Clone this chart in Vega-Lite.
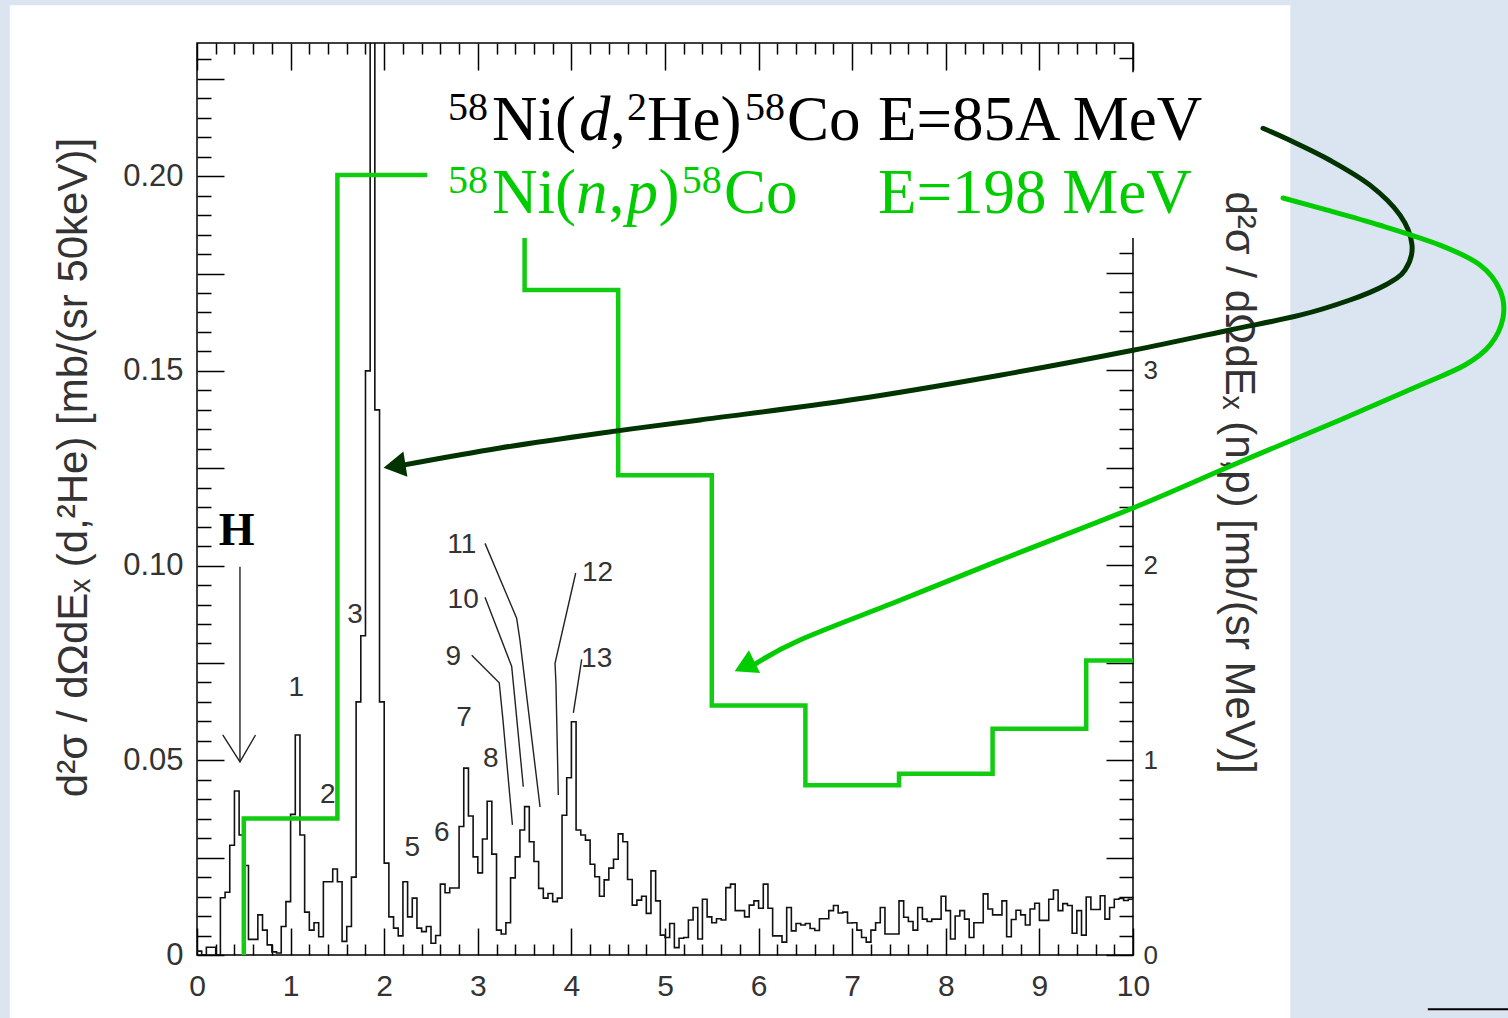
{
"$schema": "https://vega.github.io/schema/vega-lite/v6.json",
"width": 936, "height": 912,
"autosize": {"type": "none"},
"padding": {"left": 197, "top": 43, "right": 375, "bottom": 63},
"background": "#ffffff",
"config": {"view": {"stroke": "#000000", "strokeWidth": 1.5}, "axis": {"labelFont": "Liberation Sans", "titleFont": "Liberation Sans", "labelColor": "#333333", "titleColor": "#333333", "titleFontWeight": "normal"}},
"resolve": {"scale": {"y": "independent"}, "axis": {"x": "independent", "y": "independent"}},
"datasets": {
"hist": [
{"e":0.00,"v":0.001},{"e":0.05,"v":0.0},{"e":0.10,"v":0.002},{"e":0.15,"v":0.002},{"e":0.20,"v":0.0},
{"e":0.25,"v":0.0147},{"e":0.30,"v":0.0161},{"e":0.35,"v":0.0282},{"e":0.40,"v":0.0421},{"e":0.45,"v":0.0308},
{"e":0.50,"v":0.023},{"e":0.55,"v":0.004},{"e":0.60,"v":0.004},{"e":0.65,"v":0.0103},{"e":0.70,"v":0.0064},
{"e":0.75,"v":0.0026},{"e":0.80,"v":0.0008},{"e":0.85,"v":0.0005},{"e":0.90,"v":0.0073},{"e":0.95,"v":0.0137},
{"e":1.00,"v":0.0361},{"e":1.05,"v":0.0565},{"e":1.10,"v":0.0308},{"e":1.15,"v":0.011},{"e":1.20,"v":0.0064},
{"e":1.25,"v":0.0083},{"e":1.30,"v":0.0047},{"e":1.35,"v":0.0188},{"e":1.40,"v":0.0188},{"e":1.45,"v":0.0221},
{"e":1.50,"v":0.0188},{"e":1.55,"v":0.0035},{"e":1.60,"v":0.0073},{"e":1.65,"v":0.020},{"e":1.70,"v":0.065},
{"e":1.75,"v":0.082},{"e":1.80,"v":0.150},{"e":1.85,"v":0.300},{"e":1.90,"v":0.140},{"e":1.95,"v":0.065},
{"e":2.00,"v":0.0236},{"e":2.05,"v":0.0098},{"e":2.10,"v":0.0069},{"e":2.15,"v":0.0049},{"e":2.20,"v":0.0188},
{"e":2.25,"v":0.0098},{"e":2.30,"v":0.0146},{"e":2.35,"v":0.0069},{"e":2.40,"v":0.006},{"e":2.45,"v":0.0073},
{"e":2.50,"v":0.003},{"e":2.55,"v":0.005},{"e":2.60,"v":0.0182},{"e":2.65,"v":0.016},{"e":2.70,"v":0.0172},
{"e":2.75,"v":0.0172},{"e":2.80,"v":0.033},{"e":2.85,"v":0.048},{"e":2.90,"v":0.0357},{"e":2.95,"v":0.0252},
{"e":3.00,"v":0.0211},{"e":3.05,"v":0.0298},{"e":3.10,"v":0.0395},{"e":3.15,"v":0.0259},{"e":3.20,"v":0.0064},
{"e":3.25,"v":0.0054},{"e":3.30,"v":0.0083},{"e":3.35,"v":0.0198},{"e":3.40,"v":0.0252},{"e":3.45,"v":0.0321},
{"e":3.50,"v":0.0381},{"e":3.55,"v":0.0291},{"e":3.60,"v":0.024},{"e":3.65,"v":0.0171},{"e":3.70,"v":0.0146},
{"e":3.75,"v":0.0158},{"e":3.80,"v":0.0137},{"e":3.85,"v":0.0146},{"e":3.90,"v":0.0359},{"e":3.95,"v":0.0455},
{"e":4.00,"v":0.0599},{"e":4.05,"v":0.0321},{"e":4.10,"v":0.0308},{"e":4.15,"v":0.0295},{"e":4.20,"v":0.0233},
{"e":4.25,"v":0.0201},{"e":4.30,"v":0.0151},{"e":4.35,"v":0.0193},{"e":4.40,"v":0.0223},{"e":4.45,"v":0.0246},
{"e":4.50,"v":0.0311},{"e":4.55,"v":0.0291},{"e":4.60,"v":0.0194},{"e":4.65,"v":0.0128},{"e":4.70,"v":0.0141},
{"e":4.75,"v":0.0151},{"e":4.80,"v":0.0107},{"e":4.85,"v":0.0216},{"e":4.90,"v":0.0139},{"e":4.95,"v":0.0051},
{"e":5.00,"v":0.0045},{"e":5.05,"v":0.0081},{"e":5.10,"v":0.0019},{"e":5.15,"v":0.0043},{"e":5.20,"v":0.0045},
{"e":5.25,"v":0.009},{"e":5.30,"v":0.0122},{"e":5.35,"v":0.0041},{"e":5.40,"v":0.0143},{"e":5.45,"v":0.0098},
{"e":5.50,"v":0.0083},{"e":5.55,"v":0.0093},{"e":5.60,"v":0.009},{"e":5.65,"v":0.0173},{"e":5.70,"v":0.0182},
{"e":5.75,"v":0.0114},{"e":5.80,"v":0.0114},{"e":5.85,"v":0.0098},{"e":5.90,"v":0.0128},{"e":5.95,"v":0.0139},
{"e":6.00,"v":0.012},{"e":6.05,"v":0.0182},{"e":6.10,"v":0.012},{"e":6.15,"v":0.0049},{"e":6.20,"v":0.0049},
{"e":6.25,"v":0.0033},{"e":6.30,"v":0.0122},{"e":6.35,"v":0.0062},{"e":6.40,"v":0.0081},{"e":6.45,"v":0.0077},
{"e":6.50,"v":0.0081},{"e":6.55,"v":0.0068},{"e":6.60,"v":0.0063},{"e":6.65,"v":0.0093},{"e":6.70,"v":0.0093},
{"e":6.75,"v":0.0114},{"e":6.80,"v":0.0127},{"e":6.85,"v":0.0108},{"e":6.90,"v":0.011},{"e":6.95,"v":0.0082},
{"e":7.00,"v":0.0083},{"e":7.05,"v":0.0064},{"e":7.10,"v":0.0045},{"e":7.15,"v":0.0033},{"e":7.20,"v":0.0064},
{"e":7.25,"v":0.0083},{"e":7.30,"v":0.0122},{"e":7.35,"v":0.0054},{"e":7.40,"v":0.0054},{"e":7.45,"v":0.0054},
{"e":7.50,"v":0.0139},{"e":7.55,"v":0.0097},{"e":7.60,"v":0.0086},{"e":7.65,"v":0.0064},{"e":7.70,"v":0.0122},
{"e":7.75,"v":0.0092},{"e":7.80,"v":0.0086},{"e":7.85,"v":0.0092},{"e":7.90,"v":0.0092},{"e":7.95,"v":0.0151},
{"e":8.00,"v":0.0114},{"e":8.05,"v":0.0041},{"e":8.10,"v":0.01},{"e":8.15,"v":0.0114},{"e":8.20,"v":0.0092},
{"e":8.25,"v":0.0045},{"e":8.30,"v":0.0083},{"e":8.35,"v":0.0083},{"e":8.40,"v":0.0157},{"e":8.45,"v":0.0118},
{"e":8.50,"v":0.0103},{"e":8.55,"v":0.0103},{"e":8.60,"v":0.0139},{"e":8.65,"v":0.0047},{"e":8.70,"v":0.0091},
{"e":8.75,"v":0.0115},{"e":8.80,"v":0.0103},{"e":8.85,"v":0.0077},{"e":8.90,"v":0.0118},{"e":8.95,"v":0.0133},
{"e":9.00,"v":0.0089},{"e":9.05,"v":0.0089},{"e":9.10,"v":0.0143},{"e":9.15,"v":0.0167},{"e":9.20,"v":0.0114},
{"e":9.25,"v":0.0132},{"e":9.30,"v":0.0127},{"e":9.35,"v":0.0056},{"e":9.40,"v":0.0114},{"e":9.45,"v":0.0051},
{"e":9.50,"v":0.0149},{"e":9.55,"v":0.0117},{"e":9.60,"v":0.0117},{"e":9.65,"v":0.0152},{"e":9.70,"v":0.0092},
{"e":9.75,"v":0.0122},{"e":9.80,"v":0.0143},{"e":9.85,"v":0.0145},{"e":9.90,"v":0.014},{"e":9.95,"v":0.0143},
{"e":10.00,"v":0.0143}
],
"np": [
{"i":0,"e":0.5,"g":0},{"i":1,"e":0.5,"g":0.70},{"i":2,"e":1.5,"g":4.0},{"i":3,"e":2.5,"g":4.3},
{"i":4,"e":3.5,"g":3.41},{"i":5,"e":4.5,"g":2.46},{"i":6,"e":5.5,"g":1.28},{"i":7,"e":6.5,"g":0.87},
{"i":8,"e":7.5,"g":0.93},{"i":9,"e":8.5,"g":1.16},{"i":10,"e":9.5,"g":1.51},{"i":11,"e":10.0,"g":1.51}
],
"curves": [
{"id":"dark","i":0,"x":11.389,"y":0.2123},{"id":"dark","i":1,"x":11.677,"y":0.2092},{"id":"dark","i":2,"x":12.104,"y":0.2041},
{"id":"dark","i":3,"x":12.532,"y":0.1977},{"id":"dark","i":4,"x":12.853,"y":0.19},{"id":"dark","i":5,"x":12.981,"y":0.1823},
{"id":"dark","i":6,"x":12.906,"y":0.1759},{"id":"dark","i":7,"x":12.692,"y":0.172},{"id":"dark","i":8,"x":12.318,"y":0.1682},
{"id":"dark","i":9,"x":11.784,"y":0.1643},{"id":"dark","i":10,"x":11.036,"y":0.1605},{"id":"dark","i":11,"x":10.0,"y":0.1553},
{"id":"dark","i":12,"x":8.579,"y":0.1489},{"id":"dark","i":13,"x":6.976,"y":0.1425},{"id":"dark","i":14,"x":5.374,"y":0.1374},
{"id":"dark","i":15,"x":4.306,"y":0.134},{"id":"dark","i":16,"x":3.237,"y":0.1302},{"id":"dark","i":17,"x":2.2,"y":0.1258},
{"id":"light","i":0,"x":11.603,"y":0.1944},{"id":"light","i":1,"x":11.998,"y":0.1918},{"id":"light","i":2,"x":12.639,"y":0.1874},
{"id":"light","i":3,"x":13.28,"y":0.1823},{"id":"light","i":4,"x":13.707,"y":0.1772},{"id":"light","i":5,"x":13.921,"y":0.1707},
{"id":"light","i":6,"x":13.953,"y":0.1636},{"id":"light","i":7,"x":13.814,"y":0.1566},{"id":"light","i":8,"x":13.547,"y":0.1515},
{"id":"light","i":9,"x":13.066,"y":0.1463},{"id":"light","i":10,"x":12.212,"y":0.1374},{"id":"light","i":11,"x":11.143,"y":0.1266},
{"id":"light","i":12,"x":10.0,"y":0.1148},{"id":"light","i":13,"x":8.579,"y":0.1014},{"id":"light","i":14,"x":7.511,"y":0.0911},
{"id":"light","i":15,"x":6.442,"y":0.0809},{"id":"light","i":16,"x":5.95,"y":0.0745}
],
"leaders": [
{"id":"H1","i":0,"x":0.459,"y":0.0997},{"id":"H1","i":1,"x":0.459,"y":0.0496},
{"id":"H2","i":0,"x":0.275,"y":0.0565},{"id":"H2","i":1,"x":0.459,"y":0.0496},{"id":"H2","i":2,"x":0.625,"y":0.0565},
{"id":"9","i":0,"x":2.935,"y":0.077},{"id":"9","i":1,"x":3.229,"y":0.0699},{"id":"9","i":2,"x":3.269,"y":0.0603},{"id":"9","i":3,"x":3.37,"y":0.0334},
{"id":"10","i":0,"x":3.077,"y":0.0919},{"id":"10","i":1,"x":3.362,"y":0.0741},{"id":"10","i":2,"x":3.397,"y":0.0655},{"id":"10","i":3,"x":3.486,"y":0.0432},
{"id":"11","i":0,"x":3.077,"y":0.1057},{"id":"11","i":1,"x":3.415,"y":0.0865},{"id":"11","i":2,"x":3.45,"y":0.0809},{"id":"11","i":3,"x":3.665,"y":0.038},
{"id":"12","i":0,"x":4.046,"y":0.0981},{"id":"12","i":1,"x":3.825,"y":0.0749},{"id":"12","i":2,"x":3.835,"y":0.0698},{"id":"12","i":3,"x":3.86,"y":0.0411},
{"id":"13","i":0,"x":4.11,"y":0.0759},{"id":"13","i":1,"x":4.021,"y":0.0622}
],
"peaklabels": [
{"t":"1","x":1.062,"y":0.0686},{"t":"2","x":1.396,"y":0.0411},{"t":"3","x":1.688,"y":0.0874},
{"t":"5","x":2.3,"y":0.0275},{"t":"6","x":2.615,"y":0.0314},{"t":"7","x":2.852,"y":0.0608},
{"t":"8","x":3.138,"y":0.0503},{"t":"9","x":2.737,"y":0.0766},{"t":"10","x":2.844,"y":0.0911},
{"t":"11","x":2.83,"y":0.1053},{"t":"12","x":4.28,"y":0.0981},{"t":"13","x":4.27,"y":0.0761}
]
},
"layer": [
{
"data": {"values": [{"x":11.68,"x2":14.2,"y":-0.02,"y2":0.25},{"x":-2.2,"x2":11.68,"y":0.2439,"y2":0.25},{"x":-2.2,"x2":-2.0,"y":-0.02,"y2":0.25}]},
"mark": {"type":"rect","color":"#dbe5f1","clip":false},
"encoding": {
"x": {"field":"x","type":"quantitative","scale":{"domain":[0,10],"nice":false},"axis":null},
"x2": {"field":"x2"},
"y": {"field":"y","type":"quantitative","scale":{"domain":[0,0.2342],"nice":false},"axis":null},
"y2": {"field":"y2"}
}
},
{
"data": {"values": [{"x":13.15,"x2":14.2,"y":-0.0139}]},
"mark": {"type":"rule","color":"#000000","strokeWidth":2,"clip":false},
"encoding": {
"x": {"field":"x","type":"quantitative","scale":{"domain":[0,10],"nice":false},"axis":null},
"x2": {"field":"x2"},
"y": {"field":"y","type":"quantitative","scale":{"domain":[0,0.2342],"nice":false},"axis":null}
}
},
{
"data": {"name": "hist"},
"mark": {"type":"line","interpolate":"step-after","color":"#111111","strokeWidth":1.6,"clip":true},
"encoding": {
"x": {"field":"e","type":"quantitative","scale":{"domain":[0,10],"nice":false},
 "axis": {"orient":"bottom","values":[0,0.2,0.4,0.6,0.8,1,1.2,1.4,1.6,1.8,2,2.2,2.4,2.6,2.8,3,3.2,3.4,3.6,3.8,4,4.2,4.4,4.6,4.8,5,5.2,5.4,5.6,5.8,6,6.2,6.4,6.6,6.8,7,7.2,7.4,7.6,7.8,8,8.2,8.4,8.6,8.8,9,9.2,9.4,9.6,9.8,10],
  "ticks":false,"tickSize":0,"domain":false,"grid":true,"gridColor":"#000000","gridWidth":1.5,"gridOpacity":1,
  "gridDash":{"condition":{"test":"abs(datum.value-round(datum.value))<0.001","value":[27,3000]},"value":[11,3000]},
  "labelExpr":"abs(datum.value-round(datum.value))<0.001 ? ''+round(datum.value) : ''",
  "labelOverlap":false,"labelFlush":false,"labelPadding":16,"labelFontSize":30,"title":null}},
"y": {"field":"v","type":"quantitative","scale":{"domain":[0,0.2342],"nice":false},
 "axis": {"orient":"left","values":[0,0.005,0.01,0.015,0.02,0.025,0.03,0.035,0.04,0.045,0.05,0.055,0.06,0.065,0.07,0.075,0.08,0.085,0.09,0.095,0.1,0.105,0.11,0.115,0.12,0.125,0.13,0.135,0.14,0.145,0.15,0.155,0.16,0.165,0.17,0.175,0.18,0.185,0.19,0.195,0.2,0.205,0.21,0.215,0.22,0.225,0.23],
  "ticks":false,"tickSize":0,"domain":false,"grid":true,"gridColor":"#000000","gridWidth":1.5,"gridOpacity":1,
  "gridDash":{"condition":{"test":"abs(datum.value*40-round(datum.value*40))<0.001","value":[27,3000]},"value":[14,3000]},
  "labelExpr":"abs(datum.value*20-round(datum.value*20))<0.001 ? (datum.value<0.0001 ? '0' : format(datum.value,'.2f')) : ''",
  "labelOverlap":false,"labelFlush":false,"labelPadding":14,"labelFontSize":31,
  "title":"d²σ / dΩdEₓ (d,²He) [mb/(sr 50keV)]","titleFontSize":42,"titleAngle":-90,"titleX":-124,"titleY":424,"titleAlign":"center","titleBaseline":"middle"}}
}
},
{
"data": {"name": "np"},
"mark": {"type":"line","interpolate":"step-after","color":"#11cc11","strokeWidth":4.5,"clip":false},
"encoding": {
"x": {"field":"e","type":"quantitative","scale":{"domain":[0,10],"nice":false},
 "axis": {"orient":"top","values":[0,0.2,0.4,0.6,0.8,1,1.2,1.4,1.6,1.8,2,2.2,2.4,2.6,2.8,3,3.2,3.4,3.6,3.8,4,4.2,4.4,4.6,4.8,5,5.2,5.4,5.6,5.8,6,6.2,6.4,6.6,6.8,7,7.2,7.4,7.6,7.8,8,8.2,8.4,8.6,8.8,9,9.2,9.4,9.6,9.8,10],
  "ticks":false,"tickSize":0,"domain":false,"labels":false,"grid":true,"gridColor":"#000000","gridWidth":1.5,"gridOpacity":1,
  "gridDash":{"condition":{"test":"abs(datum.value-round(datum.value))<0.001","value":[27,3000]},"value":[11,3000]},"title":null}},
"y": {"field":"g","type":"quantitative","scale":{"domain":[0,4.677],"nice":false},
 "axis": {"orient":"right","values":[0,0.1,0.2,0.3,0.4,0.5,0.6,0.7,0.8,0.9,1,1.1,1.2,1.3,1.4,1.5,1.6,1.7,1.8,1.9,2,2.1,2.2,2.3,2.4,2.5,2.6,2.7,2.8,2.9,3,3.1,3.2,3.3,3.4,3.5,3.6,3.7,3.8,3.9,4,4.1,4.2,4.3,4.4,4.5,4.6],
  "ticks":false,"tickSize":0,"domain":false,"grid":true,"gridColor":"#000000","gridWidth":1.5,"gridOpacity":1,
  "gridDash":{"condition":{"test":"abs(datum.value*2-round(datum.value*2))<0.001","value":[27,3000]},"value":[14,3000]},
  "labelExpr":"abs(datum.value-round(datum.value))<0.001 && datum.value<3.5 ? ''+round(datum.value) : ''",
  "labelOverlap":false,"labelFlush":false,"labelPadding":10,"labelFontSize":26,
  "title":"d²σ / dΩdEₓ (n,p) [mb/(sr MeV)]","titleFontSize":42,"titleAngle":90,"titleX":105,"titleY":439,"titleAlign":"center","titleBaseline":"middle"}},
"order": {"field":"i","type":"quantitative"}
}
},
{
"data": {"values": [{"x":2.46,"x2":10.98,"y":0.1841,"y2":0.2267}]},
"mark": {"type":"rect","color":"#ffffff","clip":false},
"encoding": {
"x": {"field":"x","type":"quantitative","scale":{"domain":[0,10],"nice":false},"axis":null},
"x2": {"field":"x2"},
"y": {"field":"y","type":"quantitative","scale":{"domain":[0,0.2342],"nice":false},"axis":null},
"y2": {"field":"y2"}
}
},
{
"data": {"values": [{"t":"Ni(","x":3.152,"y":0.2092},{"t":",","x":4.412,"y":0.2092},{"t":"He)","x":4.808,"y":0.2092},{"t":"Co","x":6.303,"y":0.2092},{"t":"E=85A MeV","x":7.276,"y":0.2092}]},
"mark": {"type":"text","align":"left","baseline":"alphabetic","font":"Liberation Serif","fontSize":63,"color":"#000000","clip":false},
"encoding": {
"x": {"field":"x","type":"quantitative","scale":{"domain":[0,10],"nice":false},"axis":null},
"y": {"field":"y","type":"quantitative","scale":{"domain":[0,0.2342],"nice":false},"axis":null},
"text": {"field":"t"}
}
},
{
"data": {"values": [{"t":"d","x":4.082,"y":0.2092}]},
"mark": {"type":"text","align":"left","baseline":"alphabetic","font":"Liberation Serif","fontSize":63,"fontStyle":"italic","color":"#000000","clip":false},
"encoding": {
"x": {"field":"x","type":"quantitative","scale":{"domain":[0,10],"nice":false},"axis":null},
"y": {"field":"y","type":"quantitative","scale":{"domain":[0,0.2342],"nice":false},"axis":null},
"text": {"field":"t"}
}
},
{
"data": {"values": [{"t":"58","x":2.682,"y":0.2144},{"t":"2","x":4.594,"y":0.2144},{"t":"58","x":5.855,"y":0.2144}]},
"mark": {"type":"text","align":"left","baseline":"alphabetic","font":"Liberation Serif","fontSize":40,"color":"#000000","clip":false},
"encoding": {
"x": {"field":"x","type":"quantitative","scale":{"domain":[0,10],"nice":false},"axis":null},
"y": {"field":"y","type":"quantitative","scale":{"domain":[0,0.2342],"nice":false},"axis":null},
"text": {"field":"t"}
}
},
{
"data": {"values": [{"t":"Ni(","x":3.152,"y":0.1905},{"t":",","x":4.4,"y":0.1905},{"t":")","x":4.93,"y":0.1905},{"t":"Co","x":5.63,"y":0.1905},{"t":"E=198 MeV","x":7.276,"y":0.1905}]},
"mark": {"type":"text","align":"left","baseline":"alphabetic","font":"Liberation Serif","fontSize":63,"color":"#00cc00","clip":false},
"encoding": {
"x": {"field":"x","type":"quantitative","scale":{"domain":[0,10],"nice":false},"axis":null},
"y": {"field":"y","type":"quantitative","scale":{"domain":[0,0.2342],"nice":false},"axis":null},
"text": {"field":"t"}
}
},
{
"data": {"values": [{"t":"n","x":4.05,"y":0.1905},{"t":"p","x":4.59,"y":0.1905}]},
"mark": {"type":"text","align":"left","baseline":"alphabetic","font":"Liberation Serif","fontSize":63,"fontStyle":"italic","color":"#00cc00","clip":false},
"encoding": {
"x": {"field":"x","type":"quantitative","scale":{"domain":[0,10],"nice":false},"axis":null},
"y": {"field":"y","type":"quantitative","scale":{"domain":[0,0.2342],"nice":false},"axis":null},
"text": {"field":"t"}
}
},
{
"data": {"values": [{"t":"58","x":2.682,"y":0.1957},{"t":"58","x":5.18,"y":0.1957}]},
"mark": {"type":"text","align":"left","baseline":"alphabetic","font":"Liberation Serif","fontSize":40,"color":"#00cc00","clip":false},
"encoding": {
"x": {"field":"x","type":"quantitative","scale":{"domain":[0,10],"nice":false},"axis":null},
"y": {"field":"y","type":"quantitative","scale":{"domain":[0,0.2342],"nice":false},"axis":null},
"text": {"field":"t"}
}
},
{
"data": {"name": "peaklabels"},
"mark": {"type":"text","align":"center","baseline":"middle","font":"Liberation Sans","fontSize":28,"color":"#333333","clip":false},
"encoding": {
"x": {"field":"x","type":"quantitative","scale":{"domain":[0,10],"nice":false},"axis":null},
"y": {"field":"y","type":"quantitative","scale":{"domain":[0,0.2342],"nice":false},"axis":null},
"text": {"field":"t"}
}
},
{
"data": {"values": [{"t":"H","x":0.424,"y":0.109}]},
"mark": {"type":"text","align":"center","baseline":"middle","font":"Liberation Serif","fontSize":46,"fontWeight":"bold","color":"#000000","clip":false},
"encoding": {
"x": {"field":"x","type":"quantitative","scale":{"domain":[0,10],"nice":false},"axis":null},
"y": {"field":"y","type":"quantitative","scale":{"domain":[0,0.2342],"nice":false},"axis":null},
"text": {"field":"t"}
}
},
{
"data": {"name": "leaders"},
"mark": {"type":"line","color":"#222222","strokeWidth":1.4,"clip":false},
"encoding": {
"x": {"field":"x","type":"quantitative","scale":{"domain":[0,10],"nice":false},"axis":null},
"y": {"field":"y","type":"quantitative","scale":{"domain":[0,0.2342],"nice":false},"axis":null},
"detail": {"field":"id"},
"order": {"field":"i","type":"quantitative"}
}
},
{
"data": {"name": "curves"},
"mark": {"type":"line","interpolate":"cardinal","strokeWidth":5,"strokeCap":"round","clip":false},
"encoding": {
"x": {"field":"x","type":"quantitative","scale":{"domain":[0,10],"nice":false},"axis":null},
"y": {"field":"y","type":"quantitative","scale":{"domain":[0,0.2342],"nice":false},"axis":null},
"color": {"field":"id","type":"nominal","scale":{"domain":["dark","light"],"range":["#003300","#00cc00"]},"legend":null},
"order": {"field":"i","type":"quantitative"}
}
},
{
"data": {"values": [{"x":2.11,"y":0.1256}]},
"mark": {"type":"point","shape":"triangle-left","filled":true,"size":650,"angle":351,"color":"#003300","opacity":1,"clip":false},
"encoding": {
"x": {"field":"x","type":"quantitative","scale":{"domain":[0,10],"nice":false},"axis":null},
"y": {"field":"y","type":"quantitative","scale":{"domain":[0,0.2342],"nice":false},"axis":null}
}
},
{
"data": {"values": [{"x":5.85,"y":0.0741}]},
"mark": {"type":"point","shape":"triangle-left","filled":true,"size":650,"angle":334,"color":"#00cc00","opacity":1,"clip":false},
"encoding": {
"x": {"field":"x","type":"quantitative","scale":{"domain":[0,10],"nice":false},"axis":null},
"y": {"field":"y","type":"quantitative","scale":{"domain":[0,0.2342],"nice":false},"axis":null}
}
}
]
}
